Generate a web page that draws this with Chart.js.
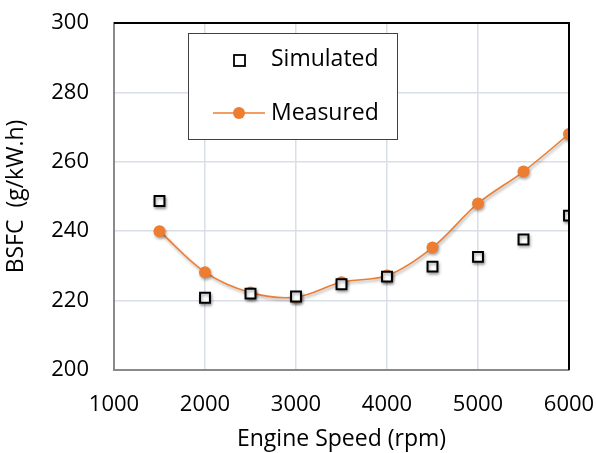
<!DOCTYPE html>
<html>
<head>
<meta charset="utf-8">
<script src="https://cdn.jsdelivr.net/npm/chart.js@4"></script>
<style>
  body { margin: 0; background: #fff; }
  #wrap { width: 596px; height: 453px; }
</style>
</head>
<body>
<div id="wrap"><canvas id="chart"></canvas></div>
<script>
const speeds = [1500, 2000, 2500, 3000, 3500, 4000, 4500, 5000, 5500, 6000];
const simulated = [248.7, 220.8, 222.0, 221.2, 224.7, 226.9, 229.8, 232.6, 237.6, 244.5];
const measured = [240.0, 228.2, 222.3, 221.0, 225.3, 227.2, 235.3, 248.0, 257.2, 268.0];
const xTicks = [1000, 2000, 3000, 4000, 5000, 6000];
const yTicks = [200, 220, 240, 260, 280, 300];

const orange = "#ED7D31";
const font = "'Open Sans', 'DejaVu Sans', sans-serif";

const toPoints = ys => speeds.map((x, i) => ({ x: x, y: ys[i] }));

// marker shadows
const shadowPlugin = {
  id: "shadow",
  beforeDatasetDraw(chart) {
    const c = chart.ctx;
    c.save();
    c.shadowColor = "rgba(0,0,0,0.35)";
    c.shadowBlur = 3;
    c.shadowOffsetX = 1;
    c.shadowOffsetY = 2;
  },
  afterDatasetDraw(chart) {
    chart.ctx.restore();
  }
};

// top/right frame + legend box
const framePlugin = {
  id: "frame",
  afterDraw(chart) {
    const c = chart.ctx;
    const a = chart.chartArea;
    c.save();
    c.strokeStyle = "#000";
    c.lineWidth = 2;
    c.beginPath();
    c.moveTo(a.left, a.top);
    c.lineTo(a.right, a.top);
    c.lineTo(a.right, a.bottom);
    c.stroke();

    // legend
    const lx = 188, ly = 33, lw = 209, lh = 106;
    c.fillStyle = "#fff";
    c.fillRect(lx, ly, lw, lh);
    c.strokeStyle = "#404040";
    c.lineWidth = 1;
    c.strokeRect(lx + 0.5, ly + 0.5, lw, lh);

    c.font = "23px " + font;
    c.textBaseline = "middle";

    // simulated entry
    c.fillStyle = "#fff";
    c.fillRect(234, 55, 11, 11);
    c.strokeStyle = "#000";
    c.lineWidth = 1.8;
    c.strokeRect(234, 55, 11, 11);
    c.fillStyle = "#000";
    c.fillText("Simulated", 271, 59);

    // measured entry
    c.strokeStyle = orange;
    c.lineWidth = 1.5;
    c.beginPath();
    c.moveTo(213, 113);
    c.lineTo(265, 113);
    c.stroke();
    c.fillStyle = orange;
    c.beginPath();
    c.arc(239, 113, 6, 0, Math.PI * 2);
    c.fill();
    c.fillStyle = "#000";
    c.fillText("Measured", 271, 113);
    c.restore();
  }
};

new Chart(document.getElementById("chart"), {
  type: "scatter",
  data: {
    datasets: [
      {
        label: "Simulated",
        data: toPoints(simulated),
        showLine: false,
        pointStyle: "rect",
        pointRadius: 7,
        pointBackgroundColor: "#fff",
        pointBorderColor: "#000",
        pointBorderWidth: 2
      },
      {
        label: "Measured",
        data: toPoints(measured),
        showLine: true,
        tension: 0.35,
        borderColor: orange,
        borderWidth: 1.6,
        pointRadius: 6,
        pointBackgroundColor: orange,
        pointBorderColor: orange,
        pointBorderWidth: 0
      }
    ]
  },
  options: {
    responsive: true,
    maintainAspectRatio: false,
    animation: false,
    layout: { padding: { top: 23, right: 27, left: 0, bottom: 0 } },
    plugins: {
      legend: { display: false },
      tooltip: { enabled: false }
    },
    scales: {
      x: {
        type: "linear",
        min: 1000,
        max: 6000,
        afterBuildTicks: s => { s.ticks = xTicks.map(v => ({ value: v })); },
        afterFit: s => { s.height = 83; s.paddingLeft = 0; s.paddingRight = 0; },
        ticks: { color: "#000", padding: 22, font: { family: font, size: 22 }, callback: v => String(v) },
        grid: { color: "#d9dee7", lineWidth: 1.5, drawTicks: false },
        border: { color: "#8a8a8a", width: 2 },
        title: {
          display: true,
          text: "Engine Speed (rpm)",
          color: "#000",
          font: { family: font, size: 23 },
          padding: { top: 0, bottom: 0 }
        }
      },
      y: {
        min: 200,
        max: 300,
        afterBuildTicks: s => { s.ticks = yTicks.map(v => ({ value: v })); },
        afterFit: s => { s.width = 114; s.paddingTop = 0; s.paddingBottom = 0; },
        ticks: { color: "#000", padding: 25, font: { family: font, size: 22 }, callback: v => String(v) },
        grid: { color: "#d9dee7", lineWidth: 1.5, drawTicks: false },
        border: { color: "#8a8a8a", width: 2 },
        title: {
          display: true,
          text: "BSFC  (g/kW.h)",
          color: "#000",
          font: { family: font, size: 23 },
          padding: { top: 3, bottom: 0 }
        }
      }
    }
  },
  plugins: [shadowPlugin, framePlugin]
});
</script>
</body>
</html>
